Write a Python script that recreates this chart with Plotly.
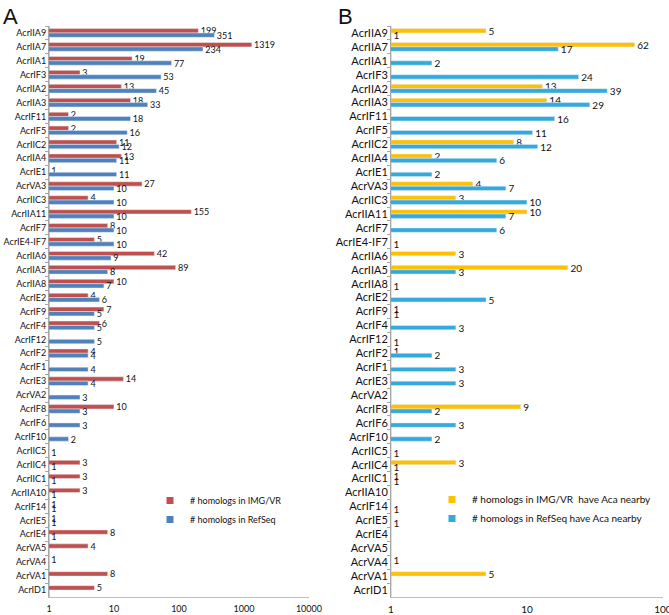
import plotly.graph_objects as go

categories = ["AcrIIA9", "AcrIIA7", "AcrIIA1", "AcrIF3", "AcrIIA2", "AcrIIA3", "AcrIF11", "AcrIF5",
              "AcrIIC2", "AcrIIA4", "AcrIE1", "AcrVA3", "AcrIIC3", "AcrIIA11", "AcrIF7", "AcrIE4-IF7",
              "AcrIIA6", "AcrIIA5", "AcrIIA8", "AcrIE2", "AcrIF9", "AcrIF4", "AcrIF12", "AcrIF2",
              "AcrIF1", "AcrIE3", "AcrVA2", "AcrIF8", "AcrIF6", "AcrIF10", "AcrIIC5", "AcrIIC4",
              "AcrIIC1", "AcrIIA10", "AcrIF14", "AcrIE5", "AcrIE4", "AcrVA5", "AcrVA4", "AcrVA1", "AcrID1"]

# Panel A
homologs_img_vr = [199, 1319, 19, 3, 13, 18, 2, 2, 11, 13, 1, 27, 4, 155, 8, 5, 42, 89, 10, 4, 7, 6,
                   None, 4, None, 14, None, 10, None, None, None, 3, 3, 3, 1, 1, 8, 4, 1, 8, 5]
homologs_refseq = [351, 234, 77, 53, 45, 33, 18, 16, 12, 11, 11, 10, 10, 10, 10, 10, 9, 8, 7, 6, 5, 5,
                   5, 4, 4, 4, 3, 3, 3, 2, 1, 1, 1, 1, 1, 1, 1, None, None, None, None]

# Panel B
aca_img_vr = [5, 62, None, None, 13, 14, None, None, 8, 2, None, 4, 3, 10, None, None, 3, 20, None, None,
              1, None, None, 1, None, None, None, 9, None, None, None, 3, 1, None, None, None, None,
              None, 1, 5, None]
aca_refseq = [1, 17, 2, 24, 39, 29, 16, 11, 12, 6, 2, 7, 10, 7, 6, 1, None, 3, 1, 5, 1, 3, 1, 2, 3, 3,
              None, 2, 3, 2, 1, 1, 1, None, 1, 1, None, None, None, None, None]

ticks_a = [1, 10, 100, 1000, 10000]
ticks_b = [1, 10, 100]

RED, BLUE, YEL, CYAN = "#C0504D", "#4F81BD", "#FFC000", "#33A9DC"
FONT = "Lato"

fig = go.Figure()

def bars(x, color, xa, ya, size):
    return go.Bar(x=x, y=categories, orientation="h", marker_color=color, xaxis=xa, yaxis=ya,
                  text=x, texttemplate=" %{x}", textposition="outside", constraintext="none",
                  cliponaxis=False, textfont=dict(family=FONT, size=size, color="#111"),
                  showlegend=False, hoverinfo="x+y")

fig.add_trace(bars(homologs_img_vr, RED, "x", "y", 9))
fig.add_trace(bars(homologs_refseq, BLUE, "x", "y", 9))
fig.add_trace(bars(aca_img_vr, YEL, "x2", "y2", 10))
fig.add_trace(bars(aca_refseq, CYAN, "x2", "y2", 10))

def leg(name, color, xa, ya, lg):
    return go.Scatter(x=[None], y=[None], mode="markers", name=name, xaxis=xa, yaxis=ya,
                      marker=dict(symbol="square", size=7, color=color), legend=lg)

fig.add_trace(leg("# homologs in IMG/VR", RED, "x", "y", "legend"))
fig.add_trace(leg("# homologs in RefSeq", BLUE, "x", "y", "legend"))
fig.add_trace(leg("# homologs in IMG/VR  have Aca nearby", YEL, "x2", "y2", "legend2"))
fig.add_trace(leg("# homologs in RefSeq have Aca nearby", CYAN, "x2", "y2", "legend2"))

ydom = [1 - 597 / 615, 1 - 26 / 615]
axcommon = dict(type="log", showgrid=False, zeroline=False, showline=True, linecolor="#BDBDBD",
                linewidth=1, ticks="", fixedrange=True, automargin=False, ticklabelstandoff=3,
                ticklabeloverflow="allow")
ycommon = dict(domain=ydom, autorange="reversed", showline=True, linecolor="#A6A6A6",
               ticks="outside", tickson="boundaries", ticklen=3, tickcolor="#A6A6A6",
               showgrid=False, automargin=False, fixedrange=True)
fig.update_layout(
    width=669, height=615, margin=dict(l=0, r=0, t=0, b=0, autoexpand=False),
    paper_bgcolor="white", plot_bgcolor="white",
    barmode="group", bargap=0.37, bargroupgap=0,
    font=dict(family=FONT, color="#111"),
    xaxis=dict(axcommon, domain=[49 / 669, 309 / 669], range=[0, 4.001], tickvals=ticks_a,
               ticktext=[str(t) for t in ticks_a], tickfont=dict(size=9), anchor="y"),
    yaxis=dict(ycommon, tickfont=dict(size=9, family=FONT), anchor="x"),
    xaxis2=dict(axcommon, domain=[391 / 669, 663 / 669], range=[0, 2.001], tickvals=ticks_b,
                ticktext=[str(t) for t in ticks_b], tickfont=dict(size=10), anchor="y2"),
    yaxis2=dict(ycommon, tickfont=dict(size=11, family=FONT), anchor="x2"),
    legend=dict(x=150 / 669, y=1 - 486 / 615, xanchor="left", yanchor="top",
                font=dict(size=9, family=FONT), bgcolor="rgba(0,0,0,0)"),
    legend2=dict(x=432 / 669, y=1 - 485 / 615, xanchor="left", yanchor="top",
                 font=dict(size=10, family=FONT), bgcolor="rgba(0,0,0,0)"),
    shapes=[
        dict(type="line", xref="x", yref="paper", x0=1, x1=1, y0=ydom[0], y1=ydom[1],
             line=dict(color="#C8C8C8", width=2), layer="below"),
        dict(type="line", xref="x2", yref="paper", x0=1, x1=1, y0=ydom[0], y1=ydom[1],
             line=dict(color="#BDBDBD", width=1), layer="below"),
    ],
    annotations=[
        dict(text="A", x=1 / 669, y=1 - 2 / 615, xref="paper", yref="paper", xanchor="left",
             yanchor="top", showarrow=False, font=dict(size=22, family="Liberation Sans")),
        dict(text="B", x=336 / 669, y=1 - 2 / 615, xref="paper", yref="paper", xanchor="left",
             yanchor="top", showarrow=False, font=dict(size=22, family="Liberation Sans")),
    ],
)

fig.write_html("out.html", config={"displayModeBar": False},
               post_script="document.body.style.margin='0';")
